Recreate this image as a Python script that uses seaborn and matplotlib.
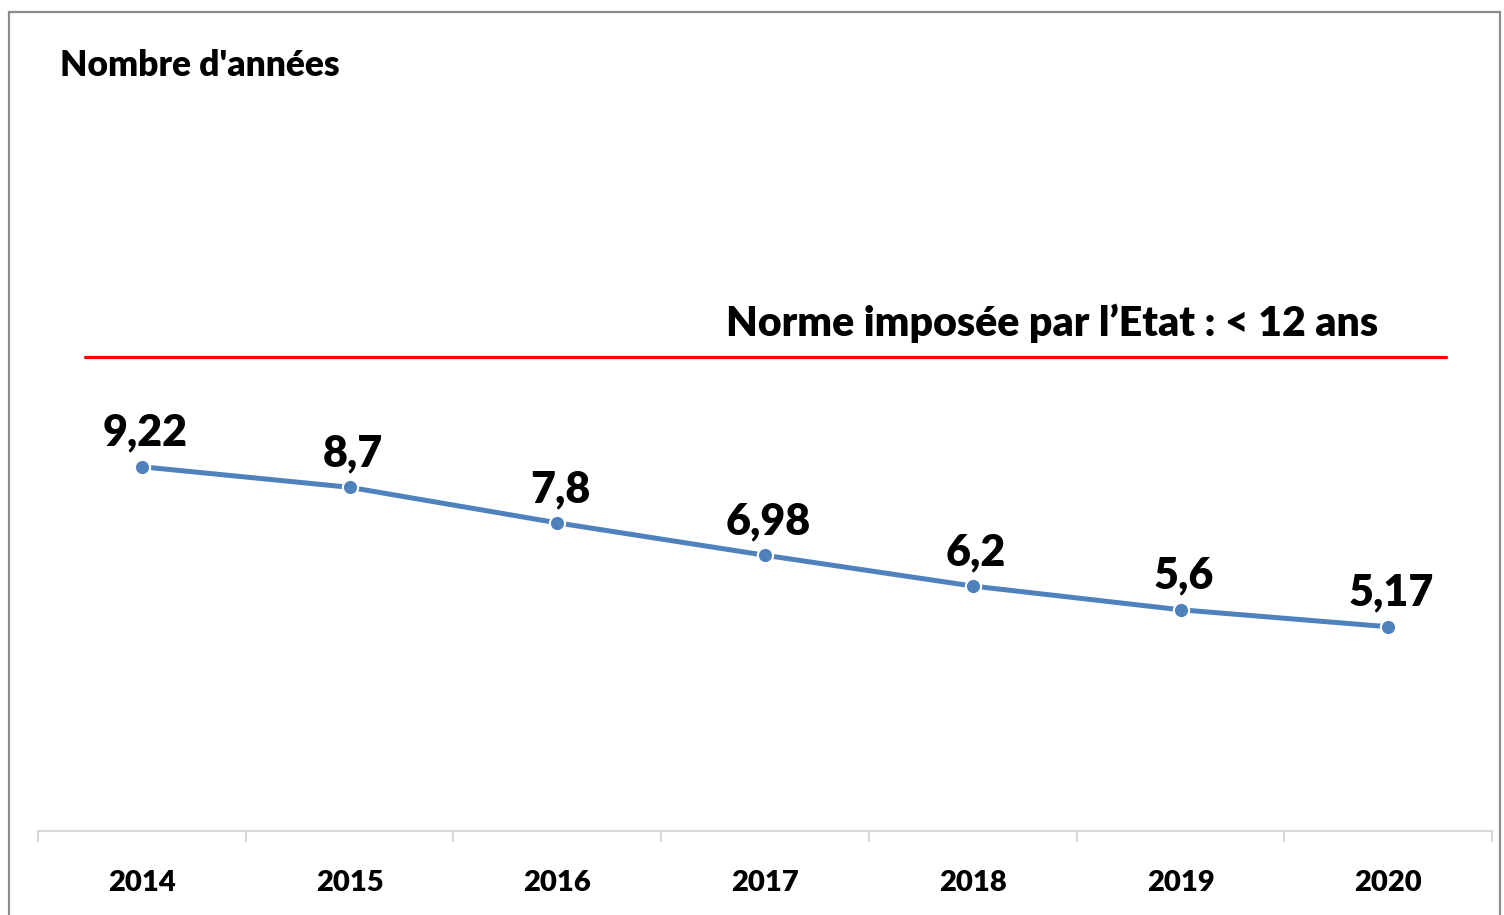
import pandas as pd
import seaborn as sns
import matplotlib.pyplot as plt
from matplotlib.patches import Rectangle
from matplotlib.ticker import FixedLocator

# data
years = ['2014', '2015', '2016', '2017', '2018', '2019', '2020']
age_moyen = [9.22, 8.7, 7.8, 6.98, 6.2, 5.6, 5.17]
labels = ['9,22', '8,7', '7,8', '6,98', '6,2', '5,6', '5,17']
norme = 12

df = pd.DataFrame({'Annee': years, 'Age': age_moyen})

sns.set_style('white')
plt.rcParams['font.family'] = ['Lato', 'DejaVu Sans']
plt.rcParams['text.color'] = 'black'
plt.rcParams['xtick.color'] = 'black'
W = 'heavy'

fig = plt.figure(figsize=(15.04, 9.15), dpi=100)
ax = fig.add_axes([0.0253, 0.0918, 0.9668, 0.8635])

sns.lineplot(data=df, x='Annee', y='Age', ax=ax, color='#4f81bd', linewidth=3.6,
             marker='o', markersize=11, markeredgecolor='white', markeredgewidth=1.5)

# red threshold line
ax.axhline(norme, xmin=0.032, xmax=0.968, color='#ff0000', linewidth=2.3)
fig.text(0.916, 0.633, "Norme imposée par l\u2019Etat : < 12 ans", ha='right', va='baseline',
         fontsize=29.5, fontweight=W)

# data labels
for i, (v, lab) in enumerate(zip(age_moyen, labels)):
    ax.annotate(lab, (i, v), xytext=(2, 10), textcoords='offset points',
                ha='center', va='bottom', fontsize=31, fontweight=W)

ax.set_xlim(-0.5, 6.5)
ax.set_ylim(0, 20)
ax.set_yticks([])
ax.set_xlabel('')
ax.set_ylabel('')
for s in ['left', 'right', 'top']:
    ax.spines[s].set_visible(False)
ax.spines['bottom'].set_color('#d9d9d9')
ax.spines['bottom'].set_linewidth(1.5)

ax.xaxis.set_minor_locator(FixedLocator([i - 0.5 for i in range(len(years) + 1)]))
ax.tick_params(axis='x', which='major', length=0, pad=28, labelsize=21, labelcolor='black')
ax.tick_params(axis='x', which='minor', length=8, width=1.5, color='#d9d9d9', direction='out')
ax.xaxis.set_ticks_position('bottom')
for t in ax.get_xticklabels():
    t.set_fontweight(W)

fig.text(0.04, 0.917, "Nombre d'années", ha='left', va='baseline', fontsize=25.5, fontweight=W)

# outer frame of the chart
fig.patches.append(Rectangle((0.006, -0.05), 0.9913, 1.037, transform=fig.transFigure,
                             fill=False, edgecolor='#8c8c8c', linewidth=1.6))

fig.savefig('out.png', dpi=100)
